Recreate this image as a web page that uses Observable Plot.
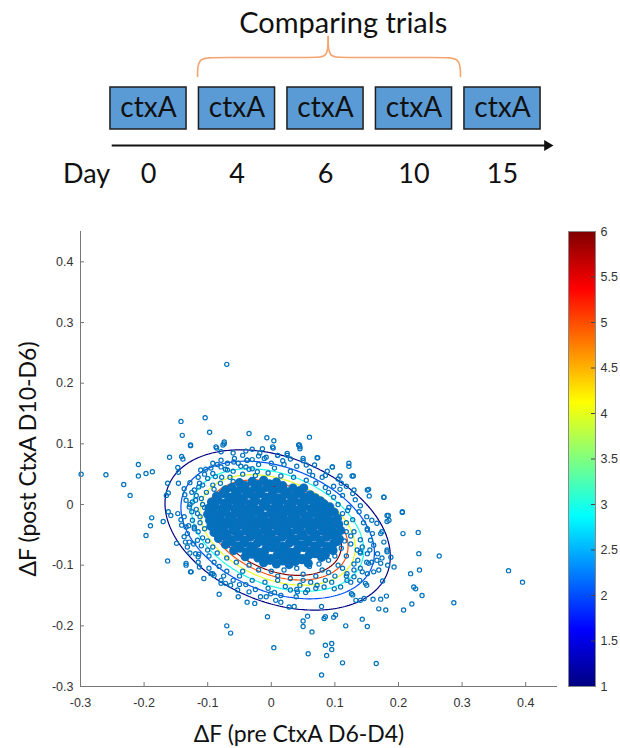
<!DOCTYPE html>
<html><head><meta charset="utf-8">
<script src="https://cdn.jsdelivr.net/npm/d3@7"></script>
<script src="https://cdn.jsdelivr.net/npm/@observablehq/plot@0.6"></script>
<style>
body{margin:0;background:#fff;}
#wrap{position:relative;width:620px;height:748px;overflow:hidden;background:#fff;}
#cbar{position:absolute;left:560px;top:200px;}
svg{display:block;}
</style></head><body>
<div id="wrap"><div id="diagram"></div><div id="scatter"></div><div id="cbar"></div></div>
<script>
// ---------- data ----------
const days = ["0", "4", "6", "10", "15"];
const boxLabel = "ctxA";
const dayWord = "Day";
const diagramTitle = "Comparing trials";
const xLabel = "ΔF (pre CtxA D6-D4)";
const yLabel = "ΔF (post CtxA D10-D6)";
const xTicks = [-0.3, -0.2, -0.1, 0, 0.1, 0.2, 0.3, 0.4];
const yTicks = [-0.3, -0.2, -0.1, 0, 0.1, 0.2, 0.3, 0.4];
const cbarTicks = [1, 1.5, 2, 2.5, 3, 3.5, 4, 4.5, 5, 5.5, 6];
const contourLevels = [1, 2, 3, 4, 5, 6];
// fitted 2-D Gaussian (read from the ellipses)
const fitCenterX = 0.010, fitCenterY = -0.042;
const fitSigmaX = 0.0771, fitSigmaY = 0.0575, fitRho = -0.33, fitPeak = 14;
const jetStops = [1, 1.625, 2.875, 4.125, 5.375, 6];
const jetColors = ["#000080", "#0000ff", "#00ffff", "#ffff00", "#ff0000", "#800000"];

const outliers = [
[-0.299,0.050],[-0.260,0.049],[-0.232,0.033],[-0.222,0.015],[-0.209,0.066],[-0.209,0.047],[-0.197,0.051],[-0.187,0.054],[-0.188,-0.022],[-0.190,-0.035],[-0.197,-0.051],[-0.170,-0.028],[-0.160,0.078],[-0.142,0.137],[-0.140,0.114],[-0.141,0.079],[-0.139,0.075],[-0.127,0.097],[-0.104,0.143],[-0.097,0.119],[-0.086,0.093],[-0.074,0.103],[-0.076,0.098],[-0.070,0.231],[-0.035,0.117],[-0.030,0.091],[-0.040,0.088],[-0.163,0.035],[-0.162,0.019],[-0.165,0.015],[-0.146,0.035],[-0.147,0.061],[-0.146,0.053],[-0.128,0.036],[-0.137,0.026],[-0.136,0.016],[-0.147,-0.015],[-0.162,-0.012],[-0.158,-0.018],[-0.142,-0.025],[-0.141,-0.034],[-0.149,-0.064],[-0.132,-0.048],[-0.129,-0.062],[-0.134,-0.037],[-0.124,0.004],[-0.111,0.057],[-0.103,0.058],[-0.092,0.068],[-0.085,0.066],[-0.079,0.073],[-0.069,0.057],[-0.059,0.070],[-0.048,0.063],[-0.038,0.073],[-0.114,0.029],[-0.119,0.007],[-0.116,-0.015],[-0.121,-0.037],[-0.116,-0.059],[-0.115,-0.086],
[-0.007,0.110],[0.004,0.105],[0.003,0.093],[0.060,0.111],[0.043,0.098],[0.045,0.095],[0.025,0.084],[0.010,0.081],[0.073,0.077],[0.050,0.076],[-0.018,0.085],[-0.011,0.076],
[-0.163,-0.093],[-0.134,-0.100],[-0.126,-0.111],[-0.114,-0.082],[-0.095,-0.114],[-0.090,-0.117],[-0.079,-0.125],[-0.072,-0.130],[-0.082,-0.148],[-0.052,-0.152],[-0.038,-0.161],[-0.026,-0.163],[-0.008,-0.152],[0.007,-0.158],[0.015,-0.161],[0.028,-0.169],[0.036,-0.168],[0.054,-0.145],[0.039,-0.152],[0.079,-0.168],[-0.006,-0.185],[0.057,-0.184],[0.126,-0.147],[0.133,-0.158],[0.140,-0.158],[0.146,-0.155],[0.160,-0.156],[0.172,-0.156],[0.169,-0.172],[0.180,-0.174],[0.208,-0.174],[0.221,-0.164],[0.224,-0.136],[0.219,-0.114],[0.232,-0.081],[0.231,-0.046],[0.207,-0.048],[0.206,-0.013],[0.177,0.012],[0.184,-0.018],[0.182,-0.028],[0.151,0.024],[0.154,0.014],[0.130,0.024],[0.122,0.068],[0.129,0.047],[0.108,0.047],[0.096,0.062],[0.172,-0.048],[0.177,-0.062],[0.182,-0.078],[0.161,-0.067],[0.166,-0.092],[0.169,-0.108],[0.158,-0.095],[0.153,-0.097],[0.151,-0.114],[0.148,-0.130],[0.139,-0.125],[0.125,-0.128],[0.119,-0.114],[0.130,-0.108],[0.136,-0.092],[0.140,-0.078],[0.151,-0.081],[0.151,-0.042],[0.166,-0.031],[0.158,-0.026],
[0.264,-0.085],[0.233,-0.108],[0.227,-0.139],[0.237,-0.150],[0.287,-0.162],[0.373,-0.109],[0.395,-0.128],[0.183,-0.100],[0.181,-0.151],[0.175,-0.126],[0.174,-0.088],[0.150,-0.133],[0.143,-0.189],[0.151,-0.201],[0.117,-0.200],[0.101,-0.182],[0.098,-0.186],[0.085,-0.185],[0.083,-0.188],[0.050,-0.192],[0.050,-0.201],[0.064,-0.210],[0.085,-0.232],[0.095,-0.229],[0.095,-0.239],[0.087,-0.249],[0.058,-0.246],[0.112,-0.261],[0.165,-0.262],[0.079,-0.281],[0.128,-0.149],[0.004,-0.236],[-0.070,-0.200],[-0.064,-0.212]
];

const ringPoints = [
[-0.127,0.098],[-0.087,0.095],[-0.074,0.100],[-0.079,0.087],[-0.014,0.092],[0.002,0.095],[0.010,0.081],[0.025,0.081],[0.044,0.098],[0.045,0.092],[0.072,0.077],[0.096,0.062],[0.122,0.063],[0.127,0.047],[0.153,0.025],[0.177,0.012],[0.206,-0.012],[0.182,-0.018],[0.185,-0.026],[0.174,-0.045],[0.151,-0.040],[0.159,-0.048],[0.156,-0.059],[0.143,-0.070],[0.140,-0.080],[0.167,-0.081],[0.182,-0.075],[0.188,-0.087],[0.172,-0.097],[0.193,-0.103],[0.161,-0.111],[0.143,-0.111],[0.130,-0.119],[0.119,-0.125],[0.109,-0.136],[0.099,-0.139],[0.083,-0.136],[0.072,-0.133],[0.057,-0.141],[0.041,-0.144],[0.030,-0.141],[0.015,-0.150],[-0.001,-0.147],[-0.017,-0.152],[-0.035,-0.144],[-0.053,-0.141],[-0.064,-0.133],[-0.079,-0.130],[-0.092,-0.114],[-0.106,-0.122],[-0.113,-0.103],[-0.127,-0.111],[-0.134,-0.097],[-0.119,-0.081],[-0.132,-0.070],[-0.137,-0.053],[-0.121,-0.040],[-0.124,-0.026],[-0.137,-0.020],[-0.129,-0.004],[-0.134,0.007],[-0.121,0.024],[-0.113,0.035],[-0.100,0.043],[-0.092,0.051],[-0.079,0.062],[-0.069,0.068],[-0.058,0.076],[-0.045,0.081],[-0.038,0.073],[-0.030,0.059],[-0.022,0.054],
[-0.110,0.010],[-0.105,-0.005],[-0.112,-0.030],[-0.108,-0.055],[-0.100,-0.075],[-0.090,-0.095],[-0.070,-0.110],[-0.050,-0.118],[-0.030,-0.125],[-0.010,-0.128],[0.010,-0.125],[0.030,-0.122],[0.050,-0.125],[0.070,-0.118],[0.090,-0.112],[0.105,-0.100],[0.118,-0.085],[0.125,-0.065],[0.130,-0.045],[0.128,-0.025],[0.122,-0.005],[0.112,0.015],[0.098,0.030],[0.080,0.045],[0.060,0.055],[0.040,0.063],[0.020,0.066],[0.000,0.068],[-0.020,0.066],[-0.040,0.062],[-0.060,0.055],[-0.078,0.045],[-0.092,0.032],[-0.102,0.020],
[-0.118,0.015],[-0.125,-0.012],[-0.115,-0.045],[-0.122,-0.065],[-0.098,-0.085],[-0.082,-0.102],[-0.060,-0.125],[-0.040,-0.132],[-0.005,-0.138],[0.022,-0.135],[0.045,-0.133],[0.062,-0.128],[0.085,-0.125],[0.100,-0.118],[0.112,-0.105],[0.130,-0.098],[0.135,-0.075],[0.140,-0.058],[0.145,-0.030],[0.138,-0.012],[0.132,0.008],[0.118,0.030],[0.105,0.042],[0.088,0.055],[0.068,0.065],[0.050,0.072],[0.030,0.075],[-0.008,0.078],[-0.030,0.074],[-0.052,0.068],[-0.072,0.058],[-0.088,0.046],[-0.108,0.032],
[-0.065,0.045],[-0.045,0.050],[-0.025,0.048],[-0.005,0.052],[0.015,0.047],[0.035,0.045],[0.055,0.040],[0.070,0.035],[0.085,0.028],[-0.080,0.035],[-0.090,0.025],[-0.060,0.038],[0.030,0.055],[0.005,0.060],[-0.035,0.058],[0.065,0.048],
[-0.108,0.000],[-0.112,-0.020],[-0.105,-0.040],[-0.100,-0.060],[-0.092,-0.070],[-0.085,-0.080],[-0.118,-0.008],[-0.110,-0.068],
[-0.070,-0.088],[-0.055,-0.095],[-0.035,-0.100],[-0.020,-0.108],[0.000,-0.110],[0.020,-0.108],[0.040,-0.105],[0.060,-0.102],[0.075,-0.098],[0.090,-0.092],[-0.045,-0.110],[0.010,-0.118],[0.050,-0.115],[0.080,-0.108],
[0.100,-0.085],[0.110,-0.072],[0.115,-0.060],[0.118,-0.045],[0.118,-0.030],[0.112,-0.015],[0.105,0.000],[0.098,0.012],[0.090,0.020],[0.125,-0.052],[0.120,-0.010],[0.108,0.025],
[-0.095,0.060],[-0.060,0.085],[-0.020,0.080],[0.018,0.072],[0.055,0.065],[0.085,0.048],[0.110,0.035],[0.128,0.018],[0.140,-0.002],[0.150,-0.020],[0.155,-0.075],[0.150,-0.095],[0.140,-0.105],[0.118,-0.118],[0.095,-0.128],[0.070,-0.138],[0.040,-0.140],[0.005,-0.145],[-0.025,-0.140],[-0.050,-0.132],[-0.075,-0.118],[-0.098,-0.105],[-0.115,-0.095],[-0.128,-0.080],[-0.135,-0.062],[-0.130,-0.035],[-0.128,0.000],[-0.125,0.020],[-0.105,0.050],[-0.115,0.045]
];

const corePoints = [
[-0.050,0.036],[-0.041,0.031],[-0.030,0.038],[-0.021,0.033],[-0.012,0.040],[-0.003,0.034],[0.008,0.037],[0.018,0.031],
[-0.072,0.024],[-0.062,0.028],[-0.053,0.022],[-0.044,0.026],[-0.035,0.021],[-0.026,0.027],[-0.016,0.023],[-0.007,0.028],[0.003,0.022],[0.013,0.026],[0.024,0.021],[0.034,0.027],[0.045,0.023],[0.051,0.027],
[-0.086,0.014],[-0.076,0.018],[-0.067,0.012],[-0.057,0.016],[-0.047,0.011],[-0.038,0.017],[-0.028,0.013],[-0.018,0.018],[-0.009,0.012],[0.001,0.016],[0.011,0.011],[0.021,0.017],[0.031,0.013],[0.041,0.018],[0.051,0.012],[0.061,0.016],[0.069,0.011],
[-0.094,0.004],[-0.084,0.008],[-0.074,0.002],[-0.064,0.007],[-0.054,0.003],[-0.044,0.008],[-0.034,0.001],[-0.024,0.006],[-0.013,0.002],[-0.003,0.008],[0.007,0.003],[0.017,0.007],[0.027,0.001],[0.037,0.006],[0.047,0.002],[0.057,0.008],[0.067,0.003],[0.077,0.006],[0.083,0.001],
[-0.098,-0.006],[-0.088,-0.002],[-0.078,-0.008],[-0.068,-0.003],[-0.058,-0.007],[-0.048,-0.002],[-0.038,-0.008],[-0.028,-0.004],[-0.018,-0.009],[-0.008,-0.003],[0.002,-0.007],[0.012,-0.002],[0.022,-0.008],[0.032,-0.004],[0.042,-0.009],[0.052,-0.003],[0.062,-0.007],[0.072,-0.002],[0.082,-0.008],[0.092,-0.004],
[-0.100,-0.016],[-0.091,-0.012],[-0.081,-0.018],[-0.071,-0.013],[-0.061,-0.019],[-0.051,-0.014],[-0.041,-0.011],[-0.031,-0.017],[-0.021,-0.013],[-0.011,-0.019],[-0.001,-0.014],[0.009,-0.011],[0.019,-0.017],[0.029,-0.012],[0.039,-0.018],[0.049,-0.013],[0.059,-0.019],[0.069,-0.014],[0.079,-0.011],[0.089,-0.017],[0.099,-0.013],
[-0.097,-0.026],[-0.087,-0.022],[-0.077,-0.028],[-0.067,-0.023],[-0.057,-0.029],[-0.047,-0.024],[-0.037,-0.021],[-0.027,-0.027],[-0.017,-0.023],[-0.007,-0.029],[0.003,-0.024],[0.013,-0.021],[0.023,-0.027],[0.033,-0.022],[0.043,-0.028],[0.053,-0.023],[0.063,-0.029],[0.073,-0.024],[0.083,-0.021],[0.093,-0.027],[0.104,-0.023],
[-0.095,-0.036],[-0.085,-0.032],[-0.075,-0.038],[-0.065,-0.033],[-0.055,-0.039],[-0.045,-0.034],[-0.035,-0.031],[-0.025,-0.037],[-0.015,-0.033],[-0.005,-0.039],[0.005,-0.034],[0.015,-0.031],[0.025,-0.037],[0.035,-0.032],[0.045,-0.038],[0.055,-0.033],[0.065,-0.039],[0.075,-0.034],[0.085,-0.031],[0.095,-0.037],[0.106,-0.033],
[-0.090,-0.046],[-0.080,-0.042],[-0.070,-0.048],[-0.060,-0.043],[-0.050,-0.049],[-0.040,-0.044],[-0.030,-0.041],[-0.020,-0.047],[-0.010,-0.043],[0.000,-0.049],[0.010,-0.044],[0.020,-0.041],[0.030,-0.047],[0.040,-0.042],[0.050,-0.048],[0.060,-0.043],[0.070,-0.049],[0.080,-0.044],[0.090,-0.041],[0.100,-0.047],[0.109,-0.043],
[-0.083,-0.056],[-0.073,-0.052],[-0.063,-0.058],[-0.053,-0.053],[-0.043,-0.059],[-0.033,-0.054],[-0.023,-0.051],[-0.013,-0.057],[-0.003,-0.053],[0.007,-0.059],[0.017,-0.054],[0.027,-0.051],[0.037,-0.057],[0.047,-0.052],[0.057,-0.058],[0.067,-0.053],[0.077,-0.059],[0.087,-0.054],[0.097,-0.051],[0.107,-0.057],
[-0.072,-0.066],[-0.062,-0.062],[-0.052,-0.068],[-0.042,-0.063],[-0.032,-0.069],[-0.022,-0.064],[-0.012,-0.061],[-0.002,-0.067],[0.008,-0.063],[0.018,-0.069],[0.028,-0.064],[0.038,-0.061],[0.048,-0.067],[0.058,-0.062],[0.068,-0.068],[0.078,-0.063],[0.088,-0.069],[0.098,-0.064],[0.104,-0.061],
[-0.059,-0.076],[-0.049,-0.072],[-0.039,-0.078],[-0.029,-0.073],[-0.019,-0.079],[-0.009,-0.074],[0.001,-0.071],[0.011,-0.077],[0.021,-0.073],[0.031,-0.079],[0.041,-0.074],[0.051,-0.071],[0.061,-0.077],[0.071,-0.072],[0.081,-0.078],[0.091,-0.073],[0.097,-0.076],
[-0.041,-0.086],[-0.031,-0.082],[-0.021,-0.088],[-0.011,-0.083],[-0.001,-0.089],[0.009,-0.084],[0.019,-0.081],[0.029,-0.087],[0.039,-0.083],[0.049,-0.089],[0.059,-0.084],[0.069,-0.081],[0.079,-0.087],[0.085,-0.083],
[-0.012,-0.096],[-0.002,-0.092],[0.008,-0.098],[0.018,-0.093],[0.028,-0.099],[0.038,-0.094],[0.048,-0.091],[0.058,-0.097]
];

// ---------- derived ----------
const allPoints = [...outliers, ...ringPoints, ...corePoints];
const jet = d3.scaleLinear().domain(jetStops).range(jetColors).interpolate(d3.interpolateRgb);
const gauss = (x, y) => {
  const dx = (x - fitCenterX) / fitSigmaX, dy = (y - fitCenterY) / fitSigmaY;
  const q = (dx * dx - 2 * fitRho * dx * dy + dy * dy) / (1 - fitRho * fitRho);
  return fitPeak * Math.exp(-q / 2);
};
const fmt = d => String(d);
const slot = (d, i) => i;
const labelFont = "Lato, 'Open Sans', sans-serif";
const dotBlue = "#0072bd";

// ---------- top diagram ----------
const braceLeft = [[0.554,76],[0.554,57],[0.76,57],[1.88,57],[2.03,57],[2.03,36]];
const braceRight = [[3.525,76],[3.525,57],[3.32,57],[2.18,57],[2.03,57],[2.03,36]];
const diagram = Plot.plot({
  width: 620, height: 200, margin: 0,
  style: {fontFamily: labelFont, color: "#111", background: "#fff"},
  x: {domain: [-0.5, 4.5], range: [103.75, 546.25], axis: null},
  y: {domain: [0, 200], range: [0, 200], axis: null},
  marks: [
    Plot.text([diagramTitle], {x: 2.2, y: 23, fontSize: 29, fill: "#111"}),
    Plot.line(braceLeft, {x: d => d[0], y: d => d[1], curve: "basis", stroke: "#f4a46e", strokeWidth: 1.6}),
    Plot.line(braceRight, {x: d => d[0], y: d => d[1], curve: "basis", stroke: "#f4a46e", strokeWidth: 1.6}),
    Plot.rect(days, {x1: (d, i) => i - 0.43, x2: (d, i) => i + 0.43, y1: 87, y2: 129, fill: "#5b9bd5", stroke: "#1e1e1e", strokeWidth: 1.5}),
    Plot.text(days, {x: slot, y: 108, text: () => boxLabel, fontSize: 28, fill: "#111"}),
    Plot.ruleY([145], {x1: -0.41, x2: 4.5, stroke: "#111", strokeWidth: 1.8}),
    Plot.dot([0], {x: 4.506, y: 145, symbol: "triangle", rotate: 90, r: 4, fill: "#111", stroke: "none"}),
    Plot.text(days, {x: slot, y: 174, text: d => d, fontSize: 27, fill: "#111"}),
    Plot.text([dayWord], {x: -0.70, y: 174, fontSize: 27, fill: "#111"})
  ]
});
document.getElementById("diagram").appendChild(diagram);

// ---------- scatter ----------
const frameW = 620 - 80 - 63, frameH = 548 - 31 - 62;
const scatter = Plot.plot({
  width: 620, height: 548,
  marginTop: 31, marginBottom: 62, marginLeft: 80, marginRight: 63,
  style: {fontFamily: "'Liberation Sans', Arial, sans-serif", fontSize: "12.5px", color: "#333", background: "transparent"},
  x: {domain: [-0.3, 0.45], ticks: xTicks, tickSize: 0, tickPadding: 12, tickFormat: fmt, label: null},
  y: {domain: [-0.3, 0.45], ticks: yTicks, tickSize: 0, tickPadding: 7, tickFormat: fmt, label: null},
  marks: [
    ...contourLevels.map(L => Plot.contour({
      value: gauss, x1: -0.3, x2: 0.45, y1: -0.3, y2: 0.45,
      thresholds: [L], fill: "none", stroke: jet(L), strokeWidth: 1.2
    })),
    // overlapping markers in the dense core read as a solid patch
    Plot.dot(corePoints, {x: d => d[0], y: d => d[1], r: 4.6, fill: "#0a6fbd", stroke: "none"}),
    Plot.dot(allPoints, {x: d => d[0], y: d => d[1], r: 2.1, stroke: dotBlue, strokeWidth: 1.2, fill: "none"}),
    Plot.ruleX([-0.3], {stroke: "#777"}),
    Plot.ruleY([-0.3], {stroke: "#777"}),
    Plot.tickX(xTicks, {x: d => d, insetTop: frameH - 4, stroke: "#777"}),
    Plot.tickY(yTicks, {y: d => d, insetRight: frameW - 4, stroke: "#777"}),
    Plot.text([yLabel], {frameAnchor: "left", dx: -52, rotate: -90, textAnchor: "middle", lineAnchor: "middle", fontSize: 23, fontFamily: labelFont, fill: "#111"}),
    Plot.text([xLabel], {frameAnchor: "bottom", dy: 48, dx: -20, textAnchor: "middle", lineAnchor: "middle", fontSize: 23, fontFamily: labelFont, fill: "#111"})
  ]
});
document.getElementById("scatter").appendChild(scatter);

// ---------- colorbar ----------
const cbar = Plot.plot({
  width: 60, height: 548,
  marginTop: 31, marginBottom: 62, marginLeft: 8, marginRight: 25,
  style: {fontFamily: "'Liberation Sans', Arial, sans-serif", fontSize: "12.5px", color: "#333", background: "transparent"},
  x: {domain: [0, 1], axis: null},
  y: {domain: [1, 6], ticks: cbarTicks, tickSize: 0, tickPadding: 5, tickFormat: fmt, label: null, axis: "right"},
  color: {type: "linear", domain: jetStops, range: jetColors},
  marks: [
    Plot.raster({fill: (x, y) => y, x1: 0, x2: 1, y1: 1, y2: 6}),
    Plot.tickY(cbarTicks, {y: d => d, insetLeft: 23, stroke: "#444"}),
    Plot.frame({stroke: "#888"})
  ]
});
document.getElementById("cbar").appendChild(cbar);
</script>
</body></html>
